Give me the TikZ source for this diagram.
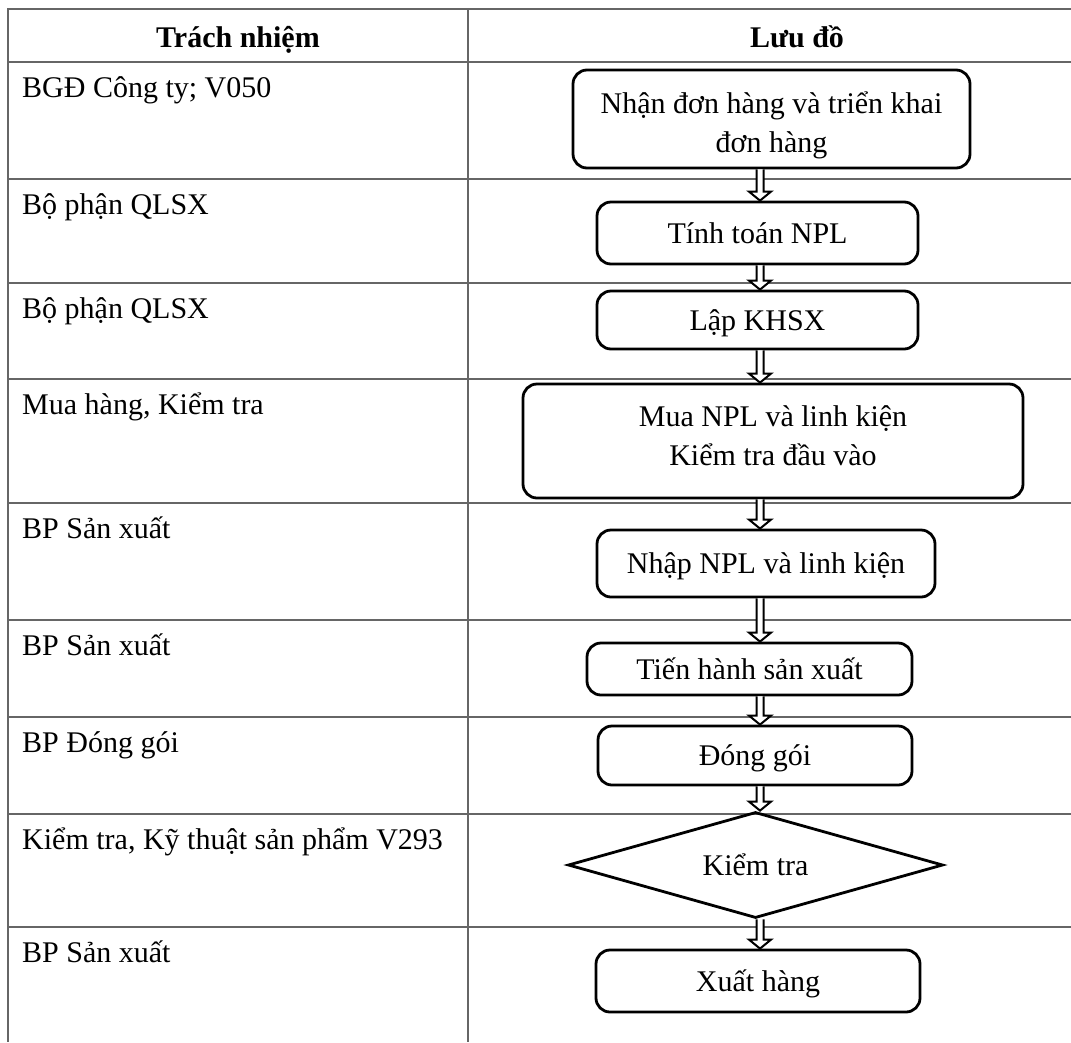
\documentclass[tikz,border=0pt]{standalone}
\usepackage{fontspec}
\setmainfont{Liberation Serif}
\usetikzlibrary{shapes.geometric,calc}
\tikzset{
  tbl/.style={draw=black!60, line width=1.5pt},
  flowbox/.style={draw=black, line width=2.8pt, rounded corners=14pt, inner sep=0pt,
    font=\fontsize{30}{39}\selectfont, align=center},
  oneline/.style={text height=20pt, text depth=0pt},
  decision/.style={draw=black, line width=2.8pt, diamond, aspect=3.5, inner sep=0pt,
    font=\fontsize{30}{39}\selectfont, text height=20pt, text depth=0pt},
  resp/.style={anchor=base west, inner sep=0pt, font=\fontsize{30}{36}\selectfont},
  head/.style={anchor=base, inner sep=0pt, font=\fontsize{30}{36}\selectfont\bfseries},
  blockarrow/.style={draw=black, fill=white, line width=2pt, line join=miter}
}
\newcommand\hollowarrow[2]{%
  \draw[blockarrow] ($(#1.south -| ax)+(-3.5,0)$) -- ($(#2.north -| ax)+(-3.5,-9)$)
    -- ($(#2.north -| ax)+(-11,-9)$) -- (#2.north -| ax)
    -- ($(#2.north -| ax)+(11,-9)$) -- ($(#2.north -| ax)+(3.5,-9)$)
    -- ($(#1.south -| ax)+(3.5,0)$);}
\begin{document}
\begin{tikzpicture}[x=1pt, y=-1pt]
\useasboundingbox (0,0) rectangle (1071,1042);
\fill[white] (0,0) rectangle (1071,1042);
% table
\coordinate (tl) at (8,9);
\coordinate (tr) at (1071,9);
\coordinate (bl) at (8,1042);
\coordinate (mt) at (468,9);
\coordinate (mb) at (468,1042);
\draw[tbl] (tr) -- (tl) -- (bl);
\draw[tbl] (mt) -- (mb);
\foreach \yy in {62,179,283,379,503,620,717,814,927}{
  \draw[tbl] (8,\yy) -- (1071,\yy);
}
% header
\node[head] (h1) at (238,47) {Trách nhiệm};
\node[head] (h2) at (797,47) {Lưu đồ};
% responsibilities
\node[resp] (r1) at (22,97) {BGĐ Công ty; V050};
\node[resp] (r2) at (22,214) {Bộ phận QLSX};
\node[resp] (r3) at (22,318) {Bộ phận QLSX};
\node[resp] (r4) at (22,414) {Mua hàng, Kiểm tra};
\node[resp] (r5) at (22,538) {BP Sản xuất};
\node[resp] (r6) at (22,655) {BP Sản xuất};
\node[resp] (r7) at (22,752) {BP Đóng gói};
\node[resp] (r8) at (22,849) {Kiểm tra, Kỹ thuật sản phẩm V293};
\node[resp] (r9) at (22,962) {BP Sản xuất};
% flow
\coordinate (ax) at (760,0);
\node[flowbox, text height=66pt, text depth=0pt, minimum width=397pt, minimum height=98pt] (b1) at (771.5,119)
  {Nhận đơn hàng và triển khai\\đơn hàng};
\node[flowbox, oneline, minimum width=321pt, minimum height=62pt] (b2) at (757.5,233) {Tính toán NPL};
\node[flowbox, oneline, minimum width=321pt, minimum height=58pt] (b3) at (757.5,320) {Lập KHSX};
\node[flowbox, text height=48pt, text depth=0pt, minimum width=500pt, minimum height=114pt] (b4) at (773,441)
  {Mua NPL và linh kiện\\Kiểm tra đầu vào};
\node[flowbox, oneline, minimum width=338pt, minimum height=67pt] (b5) at (766,563.5) {Nhập NPL và linh kiện};
\node[flowbox, oneline, minimum width=325pt, minimum height=52pt] (b6) at (749.5,669) {Tiến hành sản xuất};
\node[flowbox, oneline, minimum width=314pt, minimum height=59pt] (b7) at (755,755.5) {Đóng gói};
\node[decision, minimum width=375pt, minimum height=106pt] (d) at (755.5,865) {Kiểm tra};
\node[flowbox, oneline, minimum width=324pt, minimum height=62pt] (b8) at (758,981) {Xuất hàng};
% arrows
\hollowarrow{b1}{b2}
\hollowarrow{b2}{b3}
\hollowarrow{b3}{b4}
\hollowarrow{b4}{b5}
\hollowarrow{b5}{b6}
\hollowarrow{b6}{b7}
\hollowarrow{b7}{d}
\hollowarrow{d}{b8}
\end{tikzpicture}
\end{document}
